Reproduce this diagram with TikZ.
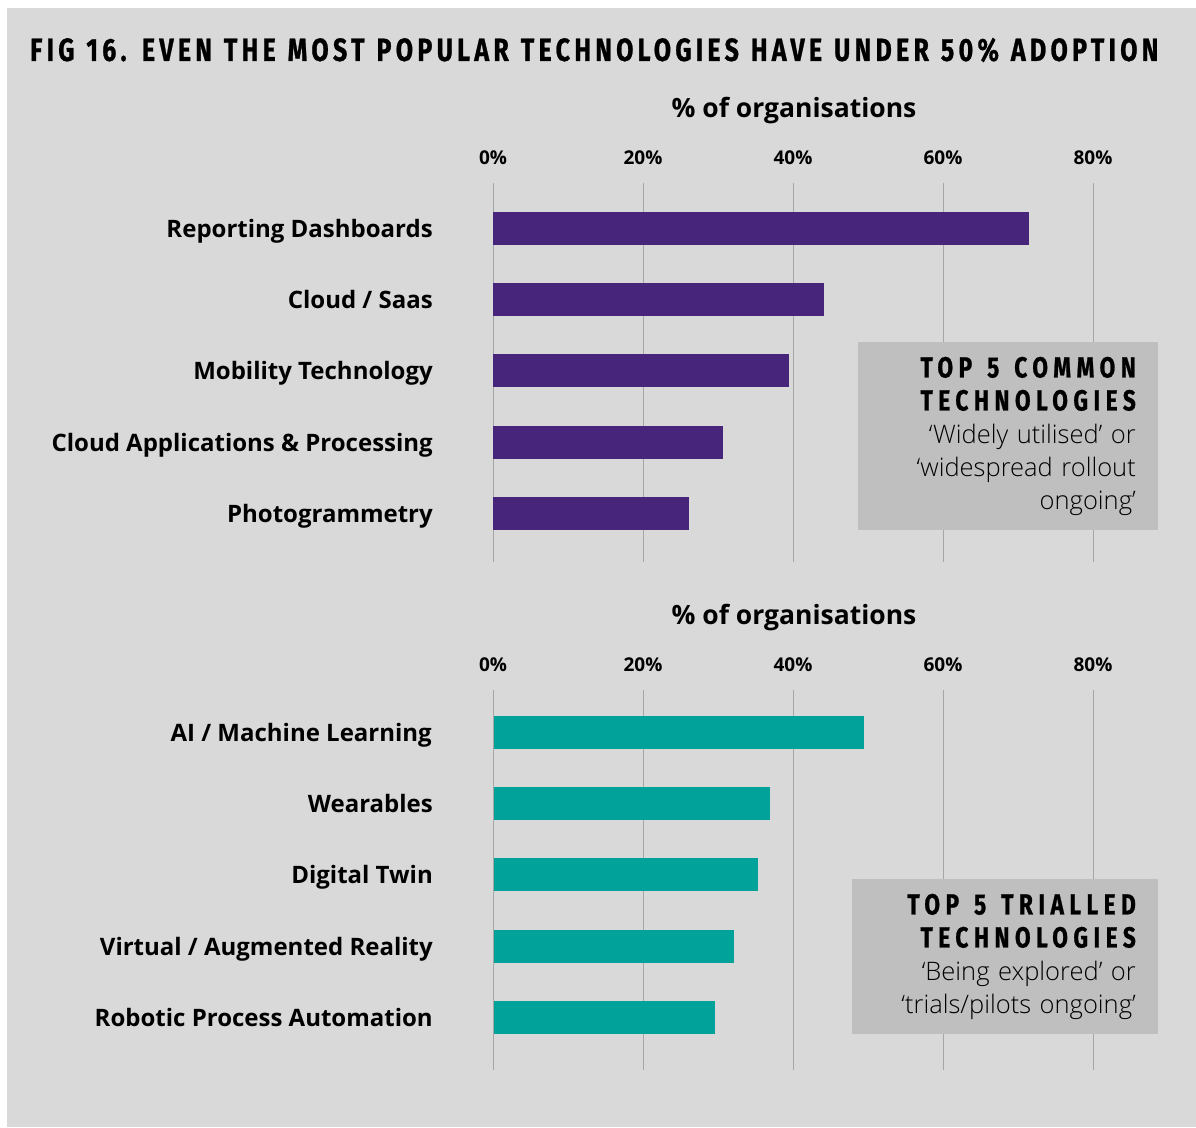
\documentclass[tikz,border=0pt]{standalone}
\usepackage{fontspec}
\setmainfont{Open Sans}
\newfontfamily\titlefont[FakeStretch=0.78,FakeBold=0.8,LetterSpace=13.5,WordSpace=1.17]{Fira Sans}
\newfontfamily\headfont[FakeStretch=0.78,FakeBold=0.8,LetterSpace=19]{Fira Sans}
\IfFontExistsTF{Open Sans Light}
	{\newfontfamily\notefont{Open Sans Light}}
	{\newfontfamily\notefont[Color=333333]{Open Sans}}
\newcommand\headgap{\hspace{15pt}}
\usetikzlibrary{positioning}

\definecolor{chartbg}{HTML}{D9D9D9}
\definecolor{boxgrey}{HTML}{BFBFBF}
\definecolor{gridgrey}{HTML}{A6A6A6}
\definecolor{commonpurple}{HTML}{46257A}
\definecolor{trialteal}{HTML}{00A29A}

\begin{document}
\begin{tikzpicture}[x=1pt,y=-1pt,
	bar/.style={rectangle,inner sep=0,minimum height=33pt,anchor=west},
	common bar/.style={bar,fill=commonpurple},
	trial bar/.style={bar,fill=trialteal},
	tech name/.style={inner sep=0,text height=18pt,text depth=0pt,
		font=\bfseries\fontsize{24}{28}\selectfont},
	tick/.style={inner sep=0,font=\bfseries\fontsize{19}{22}\selectfont},
	axis title/.style={inner sep=0,font=\bfseries\fontsize{26.5}{30}\selectfont},
	note box/.style={rectangle,fill=boxgrey,anchor=north east,align=right,
		inner xsep=22pt,inner ysep=0pt,font=\notefont\fontsize{25.5}{33}\selectfont}]

	% page and background
	\useasboundingbox (0,0) rectangle (1196,1127);
	\fill[white] (0,0) rectangle (1196,1127);
	\fill[chartbg] (7,8) rectangle (1196,1127);

	\node[anchor=west,inner sep=0] (title) at (30,50)
		{\titlefont\bfseries\fontsize{32}{36}\selectfont FIG 16. EVEN THE MOST POPULAR TECHNOLOGIES HAVE UNDER 50\% ADOPTION};

	% top chart
	\node[axis title] (axtop) at (794,111) {\% of organisations};
	\foreach \p in {0,20,40,60,80} {
		\draw[gridgrey,line width=1pt] (493+7.5*\p,183) -- (493+7.5*\p,562);
		\node[tick] (tt\p) at (493+7.5*\p,158) {\p\%};
	}

	\node[common bar,minimum width=536pt] (rd) at (493,228) {};
	\node[common bar,minimum width=331pt] (cs) at (493,299.5) {};
	\node[common bar,minimum width=296pt] (mt) at (493,370.5) {};
	\node[common bar,minimum width=230pt] (ca) at (493,442.5) {};
	\node[common bar,minimum width=196pt] (pg) at (493,513.5) {};

	\node[tech name,left=60pt of rd] {Reporting Dashboards};
	\node[tech name,left=60pt of cs] {Cloud / Saas};
	\node[tech name,left=60pt of mt] {Mobility Technology};
	\node[tech name,left=60pt of ca] {Cloud Applications \& Processing};
	\node[tech name,left=60pt of pg] {Photogrammetry};

	\node[note box,text width=256pt,minimum width=300pt,minimum height=188pt] (cbox) at (1158,342)
		{{\headfont\bfseries\fontsize{29}{33}\selectfont TOP\headgap 5\headgap COMMON}\\
		{\headfont\bfseries\fontsize{29}{33}\selectfont TECHNOLOGIES}\\
		‘Widely utilised’ or\\‘widespread rollout\\ongoing’};

	% bottom chart
	\node[axis title] (axbot) at (794,618) {\% of organisations};
	\foreach \p in {0,20,40,60,80} {
		\draw[gridgrey,line width=1pt] (493+7.5*\p,690) -- (493+7.5*\p,1070);
		\node[tick] (tb\p) at (493+7.5*\p,665) {\p\%};
	}

	\node[trial bar,minimum width=370pt] (ai) at (494,732) {};
	\node[trial bar,minimum width=276pt] (wr) at (494,803.5) {};
	\node[trial bar,minimum width=264pt] (dt) at (494,874.5) {};
	\node[trial bar,minimum width=240pt] (vr) at (494,946.5) {};
	\node[trial bar,minimum width=221pt] (rp) at (494,1017.5) {};

	\node[tech name,left=62pt of ai] {AI / Machine Learning};
	\node[tech name,left=61pt of wr] {Wearables};
	\node[tech name,left=61pt of dt] {Digital Twin};
	\node[tech name,left=61pt of vr] {Virtual / Augmented Reality};
	\node[tech name,left=61pt of rp] {Robotic Process Automation};

	\node[note box,text width=262pt,minimum width=306pt,minimum height=155pt] (tbox) at (1158,879)
		{{\headfont\bfseries\fontsize{29}{33}\selectfont TOP\headgap 5\headgap TRIALLED}\\
		{\headfont\bfseries\fontsize{29}{33}\selectfont TECHNOLOGIES}\\
		‘Being explored’ or\\‘trials/pilots ongoing’};
\end{tikzpicture}
\end{document}
